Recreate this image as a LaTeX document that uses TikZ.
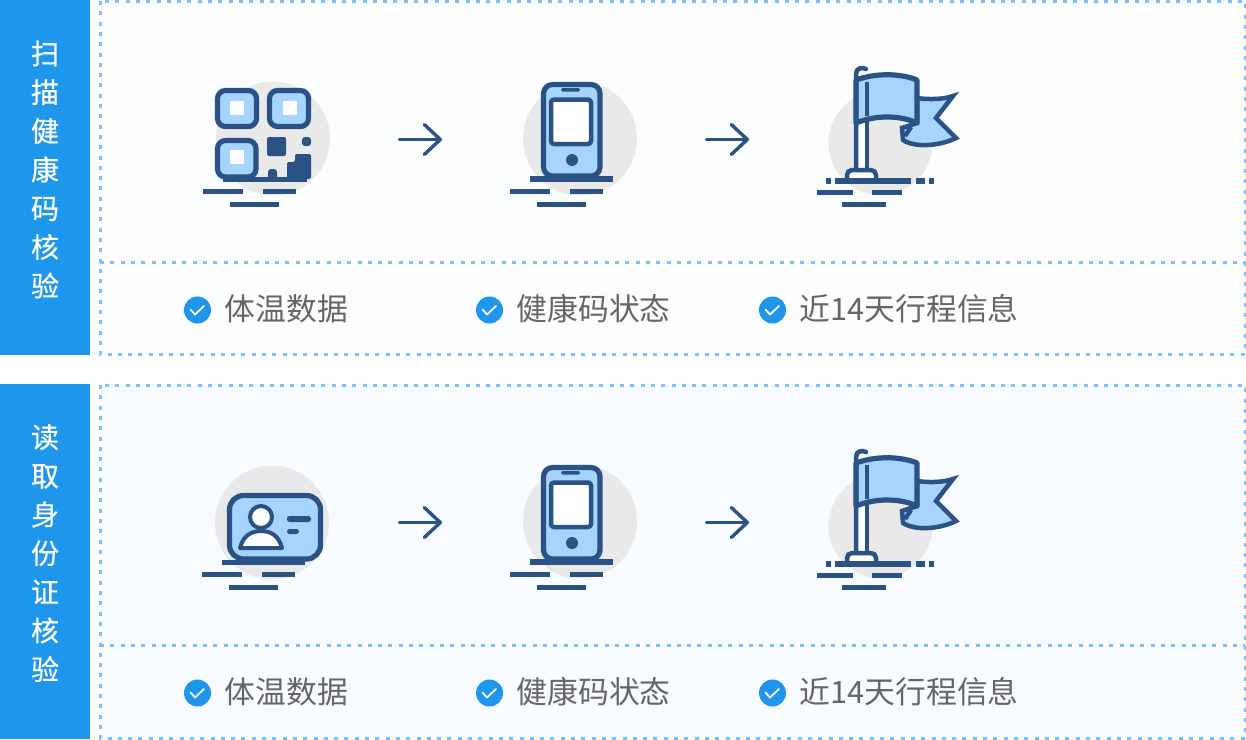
\documentclass[tikz,border=0pt]{standalone}
\usepackage{xcolor}
\usepackage{fontspec}
\setmainfont{Noto Sans CJK SC}
\newfontfamily\sidefont[FakeBold=0.5]{Noto Sans CJK SC}
\usetikzlibrary{arrows.meta,positioning}

\definecolor{sideblue}{HTML}{1E96EC}
\definecolor{dashblue}{HTML}{80BFFF}
\definecolor{icondark}{HTML}{2B5285}
\definecolor{iconlight}{HTML}{A6D3FF}
\definecolor{discgray}{HTML}{E9E9EA}
\definecolor{labelgray}{HTML}{666666}
\definecolor{paneltop}{HTML}{FCFDFF}
\definecolor{panelbot}{HTML}{F8FBFF}

\tikzset{
	dotline/.style = {draw=dashblue, line width=3pt, dash pattern=on 4pt off 6.3pt},
	sidetext/.style = {text=white, align=center, inner sep=0pt, font=\sidefont\fontsize{28}{38.7}\selectfont},
	itemtext/.style = {text=labelgray, anchor=west, inner sep=0pt, font=\fontsize{30.8}{34}\selectfont},
	checkdot/.style = {circle, fill=sideblue, minimum size=27pt, inner sep=0pt},
	disc/.style = {fill=discgray},
	bar/.style = {fill=icondark},
	outline/.style = {draw=icondark, line width=5.2pt, line join=round},
	stepline/.style = {draw=icondark, line width=3.4pt, line cap=round,
		-{Straight Barb[length=16pt,width=30pt,round]}},
	groundbars/.pic = {
		\fill[bar] (0,188.5) rectangle (40,194);
		\fill[bar] (60,188.5) rectangle (93,194);
		\fill[bar] (27,201.5) rectangle (76,207);
	},
	qricon/.pic = {
		\fill[disc] (273,138.5) circle (57);
		\fill[bar] (223,176.5) rectangle (307,182);
		\draw[outline, fill=iconlight, rounded corners=8pt] (217.5,90.5) rectangle (256.5,126.5);
		\draw[outline, fill=iconlight, rounded corners=8pt] (269.5,90.5) rectangle (308.5,126.5);
		\draw[outline, fill=iconlight, rounded corners=8pt] (217.5,140.5) rectangle (256,177);
		\fill[white] (230,101) rectangle (244,115);
		\fill[white] (283,101) rectangle (297,115);
		\fill[white] (230,150) rectangle (244,164);
		\fill[bar, rounded corners=2pt] (267,137) rectangle (286,156);
		\fill[bar, rounded corners=3pt] (302,137) rectangle (311,146);
		\fill[bar, rounded corners=3pt] (268,169) rectangle (277,180);
		\fill[bar, rounded corners=2pt] (287,179) |- (295,162) |- (311,154) -- (311,179) -- cycle;
		\pic at (203,0) {groundbars};
	},
	phoneicon/.pic = {
		\fill[disc] (580,138.5) circle (57);
		\fill[bar] (530,176) rectangle (613,182);
		\draw[outline, fill=iconlight, rounded corners=9pt] (543.5,84.5) rectangle (600,176);
		\draw[outline, fill=white, line width=4.5pt, rounded corners=3pt] (551,99.5) rectangle (591,144);
		\fill[bar, rounded corners=1.5pt] (561,88) rectangle (580,91.5);
		\fill[bar] (572,160) circle (6);
		\pic at (510,0) {groundbars};
	},
	flagicon/.pic = {
		\fill[disc] (880.5,143) circle (52);
		\fill[white] (858,75) rectangle (865,170);
		\draw[icondark, line width=4.5pt, fill=iconlight, line join=miter] (917,98) .. controls (930,100) and (945,99) .. (953,96)
			-- (936,118) -- (956,138) .. controls (940,146) and (915,148) .. (903,140)
			-- (902,128) -- (917,123) -- cycle;
		\draw[icondark, line width=4.5pt] (911,127) -- (905,136);
		\draw[outline, fill=iconlight] (856,80) .. controls (875,73) and (900,73) .. (917,80)
			-- (917,123) .. controls (900,115) and (875,115) .. (856,123) -- cycle;
		\draw[icondark, line width=4.5pt] (867,82) -- (867,116);
		\draw[icondark, line width=4.5pt] (867,118) -- (867,170);
		\draw[icondark, line width=4.5pt, line cap=round] (856,170) -- (856,74)
			.. controls (856,68) and (862,67) .. (866,69);
		\draw[icondark, line width=4.5pt, fill=white, rounded corners=5pt] (847,180) |- (876,170) -- (876,180);
		\fill[bar] (826,178) rectangle (831,183.5);
		\fill[bar] (835,178) rectangle (911,183.5);
		\fill[bar] (916,178) rectangle (925,183.5);
		\fill[bar] (929,178) rectangle (934,183.5);
		\fill[bar] (817,190) rectangle (853,195);
		\fill[bar] (872,190) rectangle (902,195);
		\fill[bar] (842,201.5) rectangle (886,206.5);
	},
	cardicon/.pic = {
		\fill[disc] (272,139.5) circle (57);
		\fill[bar] (222,176.5) rectangle (305,182);
		\draw[outline, fill=iconlight, rounded corners=14pt] (229.5,112.5) rectangle (320.5,176);
		\draw[icondark, line width=4pt, fill=white] (261,134) circle (11);
		\draw[icondark, line width=4pt, fill=white, line join=round] (240,165) .. controls (243,153) and (251,148) .. (261,148)
			.. controls (271,148) and (279,153) .. (282,165) -- cycle;
		\fill[bar, rounded corners=2.5pt] (287,133) rectangle (311,139);
		\fill[bar, rounded corners=2.5pt] (287,146) rectangle (299,151);
		\pic at (202,0) {groundbars};
	},
}

\begin{document}
\begin{tikzpicture}[x=1pt,y=-1pt]
	\useasboundingbox (0,0) rectangle (1246,739);

	% side bars
	\fill[sideblue] (0,0) rectangle (90,355);
	\fill[sideblue] (0,384) rectangle (90,739);
	\node[sidetext] (scanlabel) at (45,169.5) {扫\\描\\健\\康\\码\\核\\验};
	\node[sidetext] (cardlabel) at (45,553) {读\\取\\身\\份\\证\\核\\验};

	% panels
	\fill[paneltop] (100,1) rectangle (1245,354);
	\fill[panelbot] (100,385) rectangle (1245,738);
	\draw[dotline] (100,1) rectangle (1245,354);
	\draw[dotline] (100,385) rectangle (1245,738);
	\draw[dotline] (100,262) -- (1245,262);
	\draw[dotline] (100,645) -- (1245,645);

	% icons
	\pic at (0,0) {qricon};
	\pic at (0,383) {cardicon};
	\foreach \rowy in {0,383} {
		\pic at (0,\rowy) {phoneicon};
		\pic at (0,\rowy) {flagicon};
	}

	% arrows and check items
	\foreach \rowname/\rowy in {a/0,b/383} {
		\begin{scope}[yshift=-\rowy pt]
			\coordinate (left\rowname) at (399.5,139.5);
			\coordinate (phone\rowname) at (442,139.5);
			\coordinate (mid\rowname) at (706.5,139.5);
			\coordinate (flag\rowname) at (749,139.5);
			\draw[stepline] (left\rowname) -- (phone\rowname);
			\draw[stepline] (mid\rowname) -- (flag\rowname);

			\node[checkdot] (checkone\rowname) at (197.5,310) {};
			\node[checkdot] (checktwo\rowname) at (489.5,310) {};
			\node[checkdot] (checkthree\rowname) at (772.5,310) {};
			\foreach \checkname in {checkone,checktwo,checkthree} {
				\draw[white, line width=1.8pt, line cap=round, line join=round]
					([xshift=-7pt,yshift=0.5pt]\checkname\rowname.center) -- ([xshift=-2.5pt,yshift=-4.5pt]\checkname\rowname.center) -- ([xshift=6.5pt,yshift=4pt]\checkname\rowname.center);
			}

			\node[itemtext] (itemone\rowname) at (224.5,309) {体温数据};
			\node[itemtext] (itemtwo\rowname) at (516.5,309) {健康码状态};
			\node[itemtext] (itemthree\rowname) at (799.5,309) {近14天行程信息};
		\end{scope}
	}
\end{tikzpicture}
\end{document}
